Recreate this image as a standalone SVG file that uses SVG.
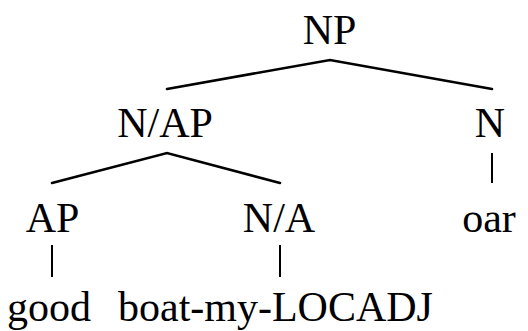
<svg xmlns="http://www.w3.org/2000/svg" width="528" height="331" viewBox="0 0 528 331">
<style>
.t{font-family:'Liberation Serif','Times New Roman',serif;font-size:42px;fill:#000;text-anchor:middle}
.s{text-anchor:start}
.e{stroke:#000;stroke-width:2.6;fill:none;stroke-linecap:round}
.v{stroke:#000;stroke-width:2;fill:none}
</style>
<rect width="528" height="331" fill="#fff"/>
<g id="connectors">
<path class="e" d="M167 89 L330 60 L492 89"/>
<path class="e" d="M52 183 L167 153 L280 183"/>
<line class="v" x1="492" y1="153" x2="492" y2="183"/>
<line class="v" x1="52" y1="245" x2="52" y2="277"/>
<line class="v" x1="280" y1="245" x2="280" y2="277"/>
</g>
<g id="np"><text class="t" x="329.5" y="44">NP</text></g>
<g id="nap"><text class="t" x="165" y="137">N/AP</text></g>
<g id="n"><text class="t" x="490" y="137">N</text></g>
<g id="ap"><text class="t" x="52.5" y="232">AP</text></g>
<g id="na"><text class="t" x="279" y="232">N/A</text></g>
<g id="oar"><text class="t" x="489" y="232">oar</text></g>
<g id="good"><text class="t" x="49" y="321">good</text></g>
<g id="boat"><text class="t s" x="118" y="321">boat-my-LOCADJ</text></g>
</svg>
